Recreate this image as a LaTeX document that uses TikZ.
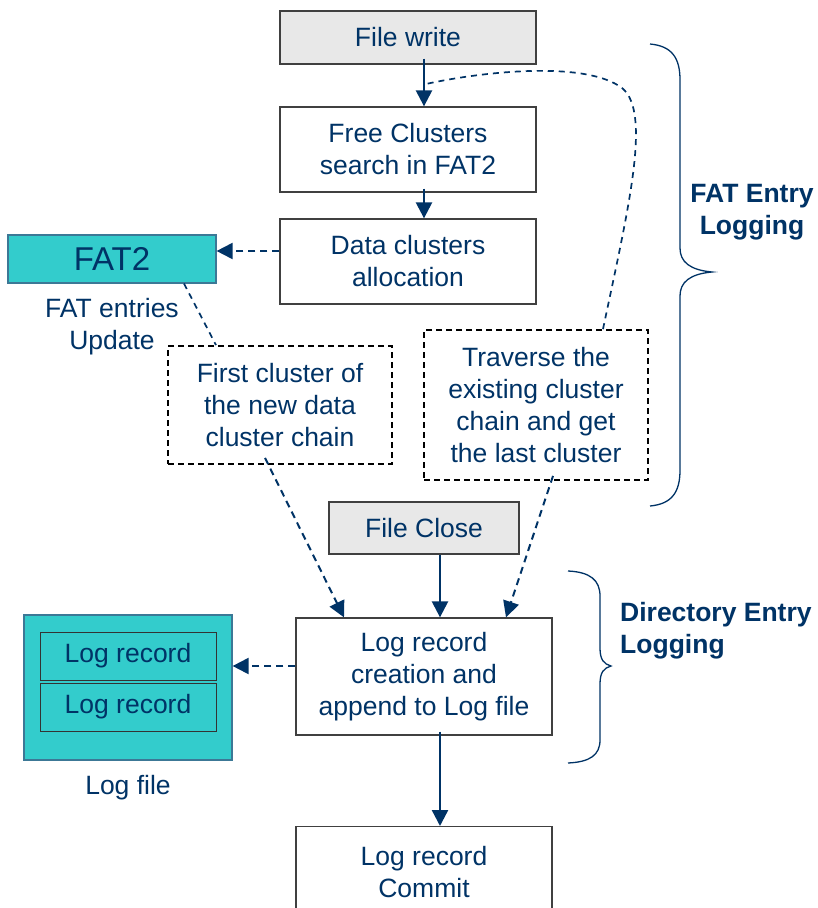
\documentclass[tikz,border=0pt]{standalone}
\usepackage{fontspec}
\setmainfont{Liberation Sans}
\usetikzlibrary{arrows.meta}
\definecolor{navy}{RGB}{0,51,102}
\definecolor{boxgray}{RGB}{64,64,64}
\definecolor{lightfill}{RGB}{232,232,232}
\definecolor{teal}{RGB}{51,204,204}
\definecolor{tealedge}{RGB}{60,120,150}
\begin{document}
\begin{tikzpicture}[x=1pt,y=-1pt,
  font=\fontsize{26.5}{32}\selectfont,
  box/.style={draw=boxgray, line width=1.3pt, fill=white, text=navy, align=center, inner sep=0pt},
  graybox/.style={box, fill=lightfill},
  dbox/.style={draw=black, line width=1.8pt, dash pattern=on 6pt off 4pt, fill=white, text=navy, align=center, inner sep=0pt},
  tealbox/.style={draw=tealedge, line width=1.2pt, fill=teal, text=navy, align=center, inner sep=0pt},
  recbox/.style={draw=black!80, line width=1pt, fill=teal, text=navy, align=center, inner sep=0pt, minimum width=176pt, minimum height=48pt},
  flow/.style={draw=navy, line width=2.4pt, -{Triangle[length=16pt,width=16pt]}},
  dflow/.style={draw=navy, line width=2pt, dash pattern=on 7pt off 5pt, -{Triangle[length=16pt,width=16pt]}},
  dlink/.style={draw=navy, line width=1.7pt, dash pattern=on 6pt off 5pt},
  brace/.style={draw=navy, line width=1.3pt},
  lbl/.style={text=navy, align=center, inner sep=0pt},
  blbl/.style={text=navy, font=\fontsize{26.5}{32}\selectfont\bfseries, inner sep=0pt}]

\useasboundingbox[fill=white] (0,0) rectangle (817,908);

% main flow boxes
\node[graybox, minimum width=256pt, minimum height=53pt] (fw) at (408,37.5) {File write};
\node[box, minimum width=256pt, minimum height=85pt] (free) at (408,149.5) {Free Clusters\\search in FAT2};
\node[box, minimum width=256pt, minimum height=85pt] (data) at (408,261.5) {Data clusters\\allocation};
\node[tealbox, minimum width=208pt, minimum height=48pt, font=\fontsize{33}{38}\selectfont] (fat) at (112,259) {FAT2};
\node[lbl] (fatlbl) at (112,327) {FAT entries\\Update};
\node[dbox, minimum width=224pt, minimum height=118pt] (first) at (280,405) {First cluster of\\the new data\\cluster chain};
\node[dbox, minimum width=224pt, minimum height=150pt] (trav) at (536,405) {Traverse the\\existing cluster\\chain and get\\the last cluster};
\node[graybox, minimum width=190pt, minimum height=52pt] (fc) at (424,528) {File Close};
\node[box, minimum width=256pt, minimum height=117pt] (logc) at (424,676.5) {Log record\\creation and\\append to Log file};
\node[box, minimum width=256pt, minimum height=120pt, anchor=north] (commit) at (424,826) {};
\node[lbl] at (424,872) {Log record\\Commit};

% log file with its records
\node[tealbox, minimum width=208pt, minimum height=145pt] (lf) at (128,687.5) {};
\node[recbox] (r1) at (128,656) {Log record};
\node[recbox] (r2) at (128,707) {Log record};
\node[lbl] (lflbl) at (128,788) {Log file};

% connectors
\draw[flow] ([xshift=16pt,yshift=6pt]fw.south) -- ([xshift=16pt]free.north);
\draw[flow] ([xshift=16pt,yshift=4pt]free.south) -- ([xshift=16pt]data.north);
\draw[dflow] ([yshift=10.5pt]data.west) -- ([yshift=8pt]fat.east);
\draw[dlink] ([xshift=72pt]fat.south) -- ([xshift=-64pt]first.north);
\draw[dflow] ([xshift=-15pt,yshift=7pt]first.south) -- ([xshift=-80pt]logc.north);
\draw[dflow] ([xshift=17pt,yshift=5pt]trav.south) -- ([xshift=82pt]logc.north);
\draw[flow] ([xshift=16pt]fc.south) -- ([xshift=16pt]logc.north);
\draw[dflow] ([yshift=10.5pt]logc.west) -- ([yshift=21.5pt]lf.east);
\draw[flow] ([xshift=16pt,yshift=4pt]logc.south) -- ([xshift=16pt]commit.north);

% path from the traversal back to the write request
\coordinate (tr) at ([xshift=67pt]trav.north);
\coordinate (wr) at (426,84);
\draw[dlink] (tr) .. controls (628,210) and (652,112) .. (622,88)
  .. controls (585,60) and (480,72) .. (wr);

% braces and their labels
\draw[brace] (650,44) .. controls (672,46) and (680,58) .. (680,80) -- (680,248)
  .. controls (680,262) and (690,270) .. (712,272)
  .. controls (690,274) and (680,282) .. (680,296) -- (680,470)
  .. controls (680,492) and (672,504) .. (650,506);
\node[blbl, align=center] (fatlog) at (752,212) {FAT Entry\\Logging};

\draw[brace] (568,571) .. controls (590,572) and (600,580) .. (600,596) -- (600,648)
  .. controls (600,660) and (604,664) .. (611,666)
  .. controls (604,668) and (600,672) .. (600,684) -- (600,740)
  .. controls (600,755) and (590,762) .. (568,763);
\node[blbl, align=left, anchor=west] (dirlog) at (620,631) {Directory Entry\\Logging};
\end{tikzpicture}
\end{document}
